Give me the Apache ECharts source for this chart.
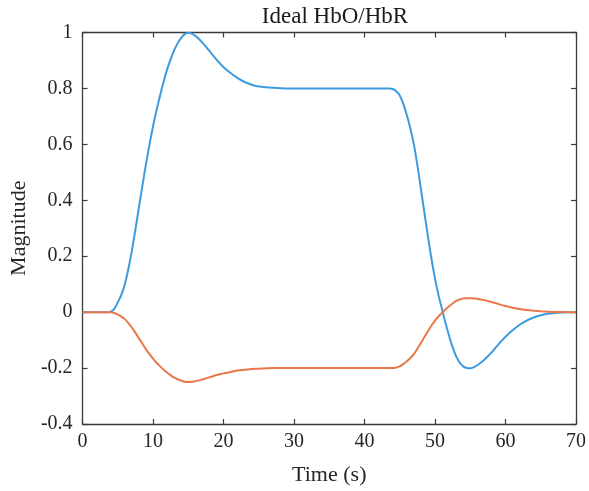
<!DOCTYPE html>
<html>
<head>
<meta charset="utf-8">
<style>
  html, body { margin: 0; padding: 0; background: #fff; }
  #chart { width: 589px; height: 491px; }
</style>
<script src="https://cdn.jsdelivr.net/npm/echarts@6/dist/echarts.min.js"></script>
</head>
<body>
<div id="chart"></div>
<script>
// Sample times in seconds (half-second steps through the transitions)
const timeS = [
  0, 1, 2, 3,
  3.5, 4, 4.5, 5, 5.5, 6, 6.5, 7, 7.5, 8, 8.5, 9, 9.5, 10, 10.5, 11, 11.5,
  12, 12.5, 13, 13.5, 14, 14.5, 15, 15.5, 16, 16.5, 17, 17.5, 18, 18.5, 19, 19.5, 20,
  21, 22, 23, 24, 25, 26, 27, 28, 29, 30, 31, 32, 33, 34, 35, 36, 37, 38, 39, 40, 41, 42, 43,
  43.5, 44, 44.5, 45, 45.5, 46, 46.5, 47, 47.5, 48, 48.5, 49, 49.5, 50, 50.5, 51, 51.5,
  52, 52.5, 53, 53.5, 54, 54.5, 55, 55.5, 56, 56.5, 57, 57.5, 58, 58.5, 59, 59.5, 60,
  61, 62, 63, 64, 65, 66, 67, 68, 69, 70
];

// Oxygenated haemoglobin response
const hbo = [
  0, 0, 0, 0,
  0, 0.002, 0.012, 0.035, 0.062, 0.1, 0.155, 0.22, 0.296, 0.375, 0.453, 0.53, 0.6, 0.665, 0.723, 0.775, 0.824,
  0.868, 0.905, 0.937, 0.962, 0.981, 0.994, 0.999, 0.996, 0.988, 0.977, 0.964, 0.949, 0.934, 0.918, 0.903, 0.889, 0.876,
  0.855, 0.837, 0.823, 0.813, 0.807, 0.804, 0.802, 0.801, 0.8, 0.8, 0.8, 0.8, 0.8, 0.8, 0.8, 0.8, 0.8, 0.8, 0.8, 0.8, 0.8, 0.8, 0.8,
  0.8, 0.798, 0.79, 0.775, 0.745, 0.705, 0.657, 0.6, 0.525, 0.44, 0.355, 0.27, 0.19, 0.12, 0.06, 0.01, -0.04,
  -0.085, -0.125, -0.158, -0.18, -0.194, -0.2, -0.201, -0.197, -0.19, -0.181, -0.17, -0.158, -0.145, -0.13, -0.115, -0.101, -0.088,
  -0.065, -0.045, -0.03, -0.019, -0.011, -0.006, -0.003, -0.001, 0, 0
];

// Deoxygenated haemoglobin response
const hbr = [
  0, 0, 0, 0,
  0, 0, -0.003, -0.009, -0.016, -0.025, -0.039, -0.055, -0.074, -0.094, -0.113, -0.133, -0.15, -0.166, -0.181, -0.194, -0.206,
  -0.217, -0.226, -0.234, -0.24, -0.245, -0.249, -0.25, -0.249, -0.247, -0.244, -0.241, -0.237, -0.233, -0.229, -0.225, -0.222, -0.219,
  -0.214, -0.209, -0.206, -0.203, -0.202, -0.201, -0.2, -0.2, -0.2, -0.2, -0.2, -0.2, -0.2, -0.2, -0.2, -0.2, -0.2, -0.2, -0.2, -0.2, -0.2, -0.2, -0.2,
  -0.2, -0.2, -0.198, -0.194, -0.186, -0.176, -0.164, -0.15, -0.131, -0.11, -0.089, -0.068, -0.048, -0.03, -0.015, -0.003, 0.01,
  0.021, 0.031, 0.04, 0.045, 0.049, 0.05, 0.05, 0.049, 0.048, 0.045, 0.043, 0.04, 0.036, 0.033, 0.029, 0.025, 0.022,
  0.016, 0.011, 0.0075, 0.005, 0.003, 0.0015, 0.0008, 0.0003, 0, 0
];

const xTicks = { min: 0, max: 70, interval: 10 };
const yTicks = { min: -0.4, max: 1, interval: 0.2 };

const serif = "'Liberation Serif', 'Times New Roman', serif";
const axisColor = '#3a3a3a';
const textColor = '#262626';

const fmtY = v => {
  const r = Math.round(v * 10) / 10;
  return r === 0 ? '0' : String(r);
};

const boxAxis = (pos) => ({
  axisLine: { show: true, onZero: false, lineStyle: { color: axisColor, width: 1.3 } },
  axisTick: { show: true, inside: true, length: 5, lineStyle: { color: axisColor, width: 1.2 } },
  splitLine: { show: false },
  position: pos
});

const lineSeries = (name, values, color) => ({
  name,
  type: 'line',
  xAxisIndex: 0, yAxisIndex: 0,
  data: timeS.map((t, i) => [t, values[i]]),
  showSymbol: false,
  smooth: 0.3,
  lineStyle: { color, width: 2 },
  itemStyle: { color }
});

const chart = echarts.init(document.getElementById('chart'), null, { renderer: 'canvas' });

chart.setOption({
  backgroundColor: '#ffffff',
  animation: false,
  title: {
    text: 'Ideal HbO/HbR',
    left: 330,
    top: 0,
    textAlign: 'center',
    textStyle: { fontFamily: serif, fontSize: 23, fontWeight: 'normal', color: '#1a1a1a' }
  },
  grid: { left: 82, right: 12, top: 32.5, bottom: 66, containLabel: false },
  xAxis: [
    Object.assign({
      type: 'value',
      min: xTicks.min, max: xTicks.max, interval: xTicks.interval,
      name: 'Time (s)',
      nameLocation: 'middle',
      nameGap: 40,
      nameTextStyle: { fontFamily: serif, fontSize: 22, color: textColor },
      axisLabel: { fontFamily: serif, fontSize: 20, color: textColor, margin: 8 }
    }, boxAxis('bottom')),
    Object.assign({
      type: 'value',
      min: xTicks.min, max: xTicks.max, interval: xTicks.interval,
      axisLabel: { show: false }
    }, boxAxis('top'))
  ],
  yAxis: [
    Object.assign({
      type: 'value',
      min: yTicks.min, max: yTicks.max, interval: yTicks.interval,
      name: 'Magnitude',
      nameLocation: 'middle',
      nameGap: 47,
      nameRotate: 90,
      nameTextStyle: { fontFamily: serif, fontSize: 22, color: textColor },
      axisLabel: { fontFamily: serif, fontSize: 20, color: textColor, margin: 10, formatter: fmtY }
    }, boxAxis('left')),
    Object.assign({
      type: 'value',
      min: yTicks.min, max: yTicks.max, interval: yTicks.interval,
      axisLabel: { show: false }
    }, boxAxis('right'))
  ],
  series: [
    lineSeries('HbO', hbo, '#3d9ade'),
    lineSeries('HbR', hbr, '#e8784a')
  ]
});
</script>
</body>
</html>
